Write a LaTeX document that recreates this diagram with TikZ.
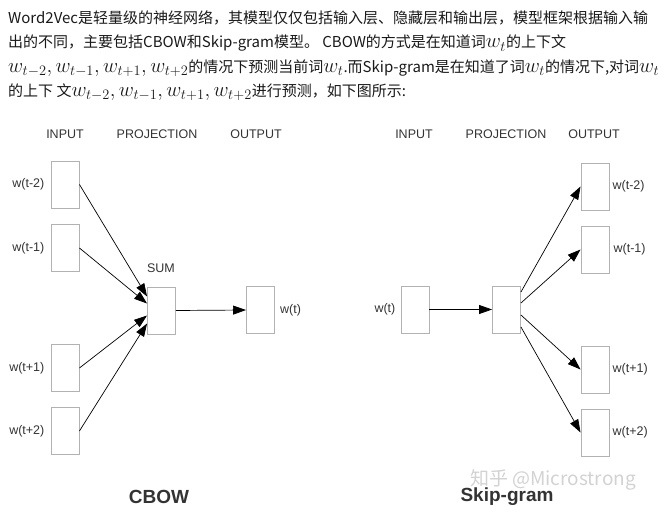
\documentclass[tikz,border=0pt]{standalone}
\usepackage{fontspec}
\setmainfont{Liberation Sans}
\newfontfamily\cjk{Noto Sans CJK SC}
\usepackage{tikz}
\usetikzlibrary{arrows.meta,positioning}

\newcommand{\kw}[1]{{\fontsize{19.5}{20}\selectfont$#1$}}

\begin{document}
\begin{tikzpicture}[x=1pt, y=-1pt,
    wbox/.style={draw=gray!60, line width=0.9pt, minimum width=28pt, minimum height=47pt, inner sep=0pt},
    lbl/.style={font=\fontsize{12.5}{14}\selectfont, text=black!80, inner sep=0pt},
    arr/.style={-{Triangle[length=13pt,width=9pt]}, black, line width=0.7pt},
    title/.style={font=\fontsize{19}{21}\selectfont\bfseries, text=black!80},
    para/.style={anchor=base west, inner sep=0pt, font=\cjk\fontsize{15}{18}\selectfont, text=black!90}]
    \useasboundingbox (0,0) rectangle (668,526);
    % text above the picture
    \node[para] (p1) at (8,24)   {Word2Vec是轻量级的神经网络，其模型仅仅包括输入层、隐藏层和输出层，模型框架根据输入输};
    \node[para] (p2) at (8,48)   {出的不同，主要包括CBOW和Skip-gram模型。 CBOW的方式是在知道词\kw{w_t}的上下文};
    \node[para] (p3) at (8,72.5) {\kw{w_{t-2}, w_{t-1}, w_{t+1}, w_{t+2}}的情况下预测当前词\kw{w_t}.而Skip-gram是在知道了词\kw{w_t}的情况下,对词\kw{w_t}};
    \node[para] (p4) at (8,96.5) {的上下 文\kw{w_{t-2}, w_{t-1}, w_{t+1}, w_{t+2}}进行预测，如下图所示:};
    % CBOW
    \node[lbl] (cin)   at (65,134)  {INPUT};
    \node[lbl] (cproj) at (157,134) {PROJECTION};
    \node[lbl] (cout)  at (256,134) {OUTPUT};
    \node[wbox] (ci1) at (65,184.5) {};
    \node[wbox] (ci2) at (65,248)   {};
    \node[wbox] (ci3) at (65,368)   {};
    \node[wbox] (ci4) at (65,431)   {};
    \node[lbl, left=6pt of ci1] {w(t-2)};
    \node[lbl, left=6pt of ci2] {w(t-1)};
    \node[lbl, left=6pt of ci3] {w(t+1)};
    \node[lbl, left=6pt of ci4] {w(t+2)};
    \node[wbox] (sum) at (161.5,310.5) {};
    \node[lbl] (sumlbl) at (161,268) {SUM};
    \node[wbox] (co) at (260.5,310) {};
    \node[lbl, right=5pt of co] {w(t)};
    \draw[arr] (ci1.east) -- ([yshift=14pt]sum.west);
    \draw[arr] (ci2.east) -- ([yshift=7pt]sum.west);
    \draw[arr] (ci3.east) -- ([yshift=-5pt]sum.west);
    \draw[arr] (ci4.east) -- ([yshift=-13pt]sum.west);
    \draw[arr] (sum.east) -- (co.west);
    \node[title] (cbow) at (159,497) {CBOW};
    % Skip-gram
    \node[lbl] (sin)   at (414,134) {INPUT};
    \node[lbl] (sproj) at (506,134) {PROJECTION};
    \node[lbl] (sout)  at (594,134) {OUTPUT};
    \node[wbox] (si) at (415,309.5) {};
    \node[lbl, left=5pt of si] {w(t)};
    \node[wbox] (sp) at (506.5,309.5) {};
    \node[wbox] (so1) at (595,186.5) {};
    \node[wbox] (so2) at (595,249.5) {};
    \node[wbox] (so3) at (595,369.5) {};
    \node[wbox] (so4) at (595,432.5) {};
    \node[lbl, right=3pt of so1] {w(t-2)};
    \node[lbl, right=4pt of so2] {w(t-1)};
    \node[lbl, right=3pt of so3] {w(t+1)};
    \node[lbl, right=3pt of so4] {w(t+2)};
    \draw[arr] (si.east) -- (sp.west);
    \draw[arr] ([yshift=17.5pt]sp.east) -- (so1.west);
    \draw[arr] ([yshift=6.5pt]sp.east) -- (so2.west);
    \draw[arr] ([yshift=-5.5pt]sp.east) -- (so3.west);
    \draw[arr] ([yshift=-17.5pt]sp.east) -- (so4.west);
    \node[title] (skip) at (507,497) {Skip-gram};
    \node[font=\cjk\fontsize{19}{21}\selectfont, text=gray!35, inner sep=1pt] (mark) at (553,480) {知乎 @Microstrong};
\end{tikzpicture}
\end{document}
